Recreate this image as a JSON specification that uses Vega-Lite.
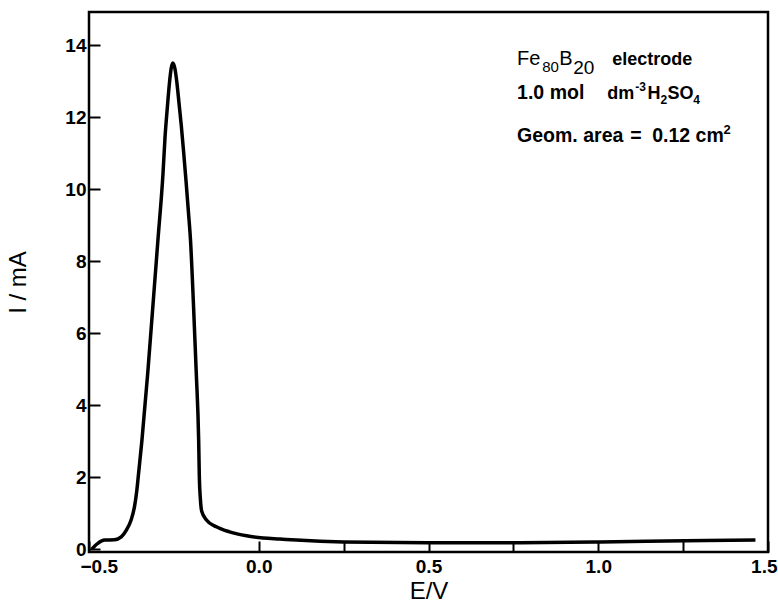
{
  "$schema": "https://vega.github.io/schema/vega-lite/v6.json",
  "width": 679,
  "height": 540,
  "autosize": {"type": "none"},
  "padding": {"left": 89, "top": 12, "right": 10, "bottom": 56},
  "background": "white",
  "config": {
    "view": {"stroke": "black", "strokeWidth": 2.5},
    "font": "Liberation Sans",
    "text": {"align": "left", "baseline": "alphabetic", "color": "black", "fontWeight": "bold", "fontSize": 18},
    "axis": {"domain": false, "grid": false, "tickColor": "black", "tickWidth": 2, "tickSize": -11, "labelColor": "black", "titleColor": "black", "labelFontWeight": "bold", "labelFontSize": 19, "titleFontSize": 24, "titleFontWeight": "normal", "labelFlush": false, "labelOverlap": false}
  },
  "layer": [
    {
      "data": {"values": [
        {"E": -0.492, "I": 0.0},
        {"E": -0.474, "I": 0.16},
        {"E": -0.454, "I": 0.25},
        {"E": -0.425, "I": 0.26},
        {"E": -0.405, "I": 0.34},
        {"E": -0.39, "I": 0.53},
        {"E": -0.376, "I": 0.81},
        {"E": -0.366, "I": 1.18},
        {"E": -0.359, "I": 1.64},
        {"E": -0.354, "I": 2.1},
        {"E": -0.344, "I": 3.03},
        {"E": -0.327, "I": 4.89},
        {"E": -0.312, "I": 6.73},
        {"E": -0.297, "I": 8.58},
        {"E": -0.282, "I": 10.44},
        {"E": -0.276, "I": 11.45},
        {"E": -0.269, "I": 12.3},
        {"E": -0.263, "I": 12.95},
        {"E": -0.258, "I": 13.35},
        {"E": -0.253, "I": 13.5},
        {"E": -0.247, "I": 13.35},
        {"E": -0.241, "I": 12.95},
        {"E": -0.235, "I": 12.4},
        {"E": -0.228, "I": 11.75},
        {"E": -0.221, "I": 11.0},
        {"E": -0.214, "I": 10.2},
        {"E": -0.207, "I": 9.35},
        {"E": -0.201, "I": 8.58},
        {"E": -0.192, "I": 6.73},
        {"E": -0.184, "I": 4.89},
        {"E": -0.177, "I": 3.03},
        {"E": -0.175, "I": 2.0},
        {"E": -0.172, "I": 1.4},
        {"E": -0.168, "I": 1.05},
        {"E": -0.154, "I": 0.81},
        {"E": -0.125, "I": 0.62},
        {"E": -0.086, "I": 0.48},
        {"E": -0.036, "I": 0.37},
        {"E": 0.013, "I": 0.31},
        {"E": 0.062, "I": 0.28},
        {"E": 0.111, "I": 0.25},
        {"E": 0.249, "I": 0.2},
        {"E": 0.499, "I": 0.18},
        {"E": 0.75, "I": 0.18},
        {"E": 1.006, "I": 0.2},
        {"E": 1.257, "I": 0.23},
        {"E": 1.463, "I": 0.25}
      ]},
      "mark": {"type": "line", "color": "black", "strokeWidth": 3.5, "interpolate": "monotone"},
      "encoding": {
        "x": {"field": "E", "type": "quantitative",
          "scale": {"domain": [-0.5, 1.5], "nice": false, "zero": false},
          "axis": {"title": "E/V", "values": [-0.5, 0, 0.25, 0.5, 0.75, 1, 1.25, 1.5], "format": ".1f",
            "labelExpr": "datum.value == 0.25 || datum.value == 0.75 || datum.value == 1.25 ? '' : datum.label",
            "labelFlush": true, "labelFlushOffset": 9,
            "labelPadding": 16, "titlePadding": 3}},
        "y": {"field": "I", "type": "quantitative",
          "scale": {"domain": [-0.08, 14.92], "nice": false, "zero": false},
          "axis": {"title": "I / mA", "values": [0, 2, 4, 6, 8, 10, 12, 14], "labelPadding": 14, "titlePadding": 34}}
      }
    },
    {"data": {"values": [{}]}, "mark": {"type": "text", "fontSize": 20, "fontWeight": "normal", "text": "Fe"},
     "encoding": {"x": {"datum": 0.761}, "y": {"datum": 13.44}}},
    {"data": {"values": [{}]}, "mark": {"type": "text", "fontSize": 15, "fontWeight": "normal", "text": "80"},
     "encoding": {"x": {"datum": 0.835}, "y": {"datum": 13.25}}},
    {"data": {"values": [{}]}, "mark": {"type": "text", "fontSize": 20, "fontWeight": "normal", "text": "B"},
     "encoding": {"x": {"datum": 0.885}, "y": {"datum": 13.44}}},
    {"data": {"values": [{}]}, "mark": {"type": "text", "fontSize": 19, "fontWeight": "normal", "text": "20"},
     "encoding": {"x": {"datum": 0.926}, "y": {"datum": 13.21}}},
    {"data": {"values": [{}]}, "mark": {"type": "text", "text": "electrode"},
     "encoding": {"x": {"datum": 1.041}, "y": {"datum": 13.44}}},
    {"data": {"values": [{}]}, "mark": {"type": "text", "fontSize": 19.5, "text": "1.0 mol"},
     "encoding": {"x": {"datum": 0.761}, "y": {"datum": 12.49}}},
    {"data": {"values": [{}]}, "mark": {"type": "text", "text": "dm"},
     "encoding": {"x": {"datum": 1.0265}, "y": {"datum": 12.49}}},
    {"data": {"values": [{}]}, "mark": {"type": "text", "fontSize": 12, "text": "-3"},
     "encoding": {"x": {"datum": 1.109}, "y": {"datum": 12.72}}},
    {"data": {"values": [{}]}, "mark": {"type": "text", "text": "H"},
     "encoding": {"x": {"datum": 1.145}, "y": {"datum": 12.49}}},
    {"data": {"values": [{}]}, "mark": {"type": "text", "fontSize": 12, "text": "2"},
     "encoding": {"x": {"datum": 1.183}, "y": {"datum": 12.36}}},
    {"data": {"values": [{}]}, "mark": {"type": "text", "text": "SO"},
     "encoding": {"x": {"datum": 1.204}, "y": {"datum": 12.49}}},
    {"data": {"values": [{}]}, "mark": {"type": "text", "fontSize": 12, "text": "4"},
     "encoding": {"x": {"datum": 1.28}, "y": {"datum": 12.36}}},
    {"data": {"values": [{}]}, "mark": {"type": "text", "fontSize": 19.5, "text": "Geom. area"},
     "encoding": {"x": {"datum": 0.761}, "y": {"datum": 11.31}}},
    {"data": {"values": [{}]}, "mark": {"type": "text", "fontSize": 19.5, "text": "="},
     "encoding": {"x": {"datum": 1.094}, "y": {"datum": 11.31}}},
    {"data": {"values": [{}]}, "mark": {"type": "text", "fontSize": 19.5, "text": "0.12 cm"},
     "encoding": {"x": {"datum": 1.159}, "y": {"datum": 11.31}}},
    {"data": {"values": [{}]}, "mark": {"type": "text", "fontSize": 13, "text": "2"},
     "encoding": {"x": {"datum": 1.369}, "y": {"datum": 11.53}}}
  ]
}
